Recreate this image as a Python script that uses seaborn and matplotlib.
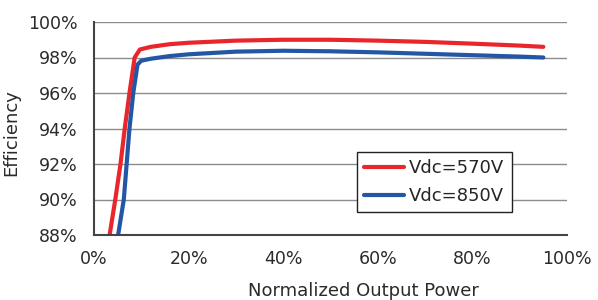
import matplotlib
matplotlib.use("Agg")
import matplotlib.pyplot as plt
import seaborn as sns
import pandas as pd

power_570 = [3.3, 4.5, 5.6, 6.5, 7.5, 8.6, 9.7, 12, 16, 20, 30, 40, 50, 60, 70, 80, 90, 95]
eff_570 = [88.0, 90.0, 92.0, 94.0, 96.0, 98.0, 98.45, 98.6, 98.75, 98.83, 98.95, 99.0, 99.0, 98.95, 98.88, 98.78, 98.67, 98.6]
power_850 = [5.1, 6.3, 6.9, 7.5, 8.3, 9.2, 10.0, 12, 16, 20, 30, 40, 50, 60, 70, 80, 90, 95]
eff_850 = [88.0, 90.0, 92.0, 94.0, 96.0, 97.6, 97.82, 97.93, 98.08, 98.18, 98.33, 98.38, 98.35, 98.29, 98.21, 98.13, 98.05, 98.0]
series_names = ["Vdc=570V", "Vdc=850V"]
x_ticks = [0, 20, 40, 60, 80, 100]
y_ticks = [88, 90, 92, 94, 96, 98, 100]

df = pd.concat([
    pd.DataFrame({"power": power_570, "eff": eff_570, "series": series_names[0]}),
    pd.DataFrame({"power": power_850, "eff": eff_850, "series": series_names[1]}),
])

sns.set_style("white")
plt.rcParams["font.family"] = ["DejaVu Sans"]

fig = plt.figure(figsize=(5.98, 3.0), dpi=100)
ax = fig.add_axes([94/598, 1-235/300, 473/598, 213/300])

for yv in y_ticks:
    ax.axhline(yv, color="#8c8c8c", lw=1.0, zorder=0)

sns.lineplot(data=df, x="power", y="eff", hue="series", sort=False,
             palette=["#E8262B", "#2456A6"], linewidth=3.0, ax=ax, estimator=None)

ax.set_xlim(0, 100)
ax.set_ylim(88, 100)
ax.set_xticks(x_ticks)
ax.set_xticklabels([f"{v}%" for v in x_ticks], fontsize=12.5, color="#2a2a2a")
ax.set_yticks(y_ticks)
ax.set_yticklabels([f"{v}%" for v in y_ticks], fontsize=12.5, color="#2a2a2a")
ax.tick_params(axis="x", direction="in", length=6, width=1, color="#333333", pad=11)
ax.tick_params(axis="y", length=0, pad=12)
for s in ["top", "right"]:
    ax.spines[s].set_visible(False)
for s in ["left", "bottom"]:
    ax.spines[s].set_color("#444444")
    ax.spines[s].set_linewidth(1.5)

ax.set_xlabel("Normalized Output Power", fontsize=13, color="#2a2a2a")
ax.set_ylabel("Efficiency", fontsize=13, color="#2a2a2a")
ax.xaxis.set_label_coords(0.57, -0.22)
ax.yaxis.set_label_coords(-0.155, 0.48)

leg = ax.legend(loc="upper left", bbox_to_anchor=(0.556, 0.39), fontsize=13,
                frameon=True, fancybox=False, framealpha=1, edgecolor="#222222",
                handlelength=2.2, handletextpad=0.3, borderpad=0.4, labelspacing=0.55,
                borderaxespad=0)
leg.get_frame().set_linewidth(1.0)

fig.savefig("out.png", dpi=100)
